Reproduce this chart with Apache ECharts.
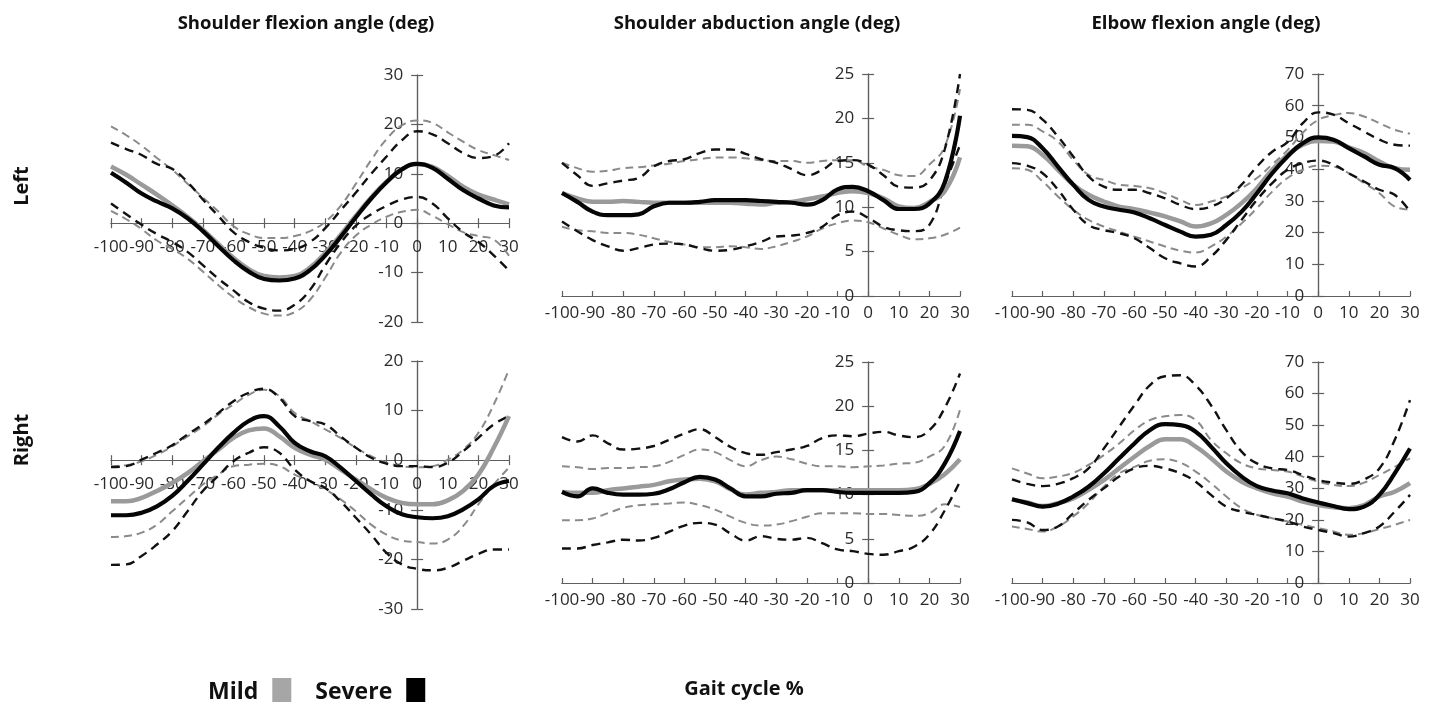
<!DOCTYPE html>
<html><head><meta charset="utf-8">
<script src="https://cdn.jsdelivr.net/npm/echarts@6/dist/echarts.min.js"></script>
<style>html,body{margin:0;padding:0;background:#fff}#c{width:1434px;height:702px}</style>
</head><body><div id="c"></div><script>
// Gait cycle % (x positions)
const gait = [-100,-95,-90,-85,-80,-75,-70,-65,-60,-55,-50,-45,-40,-35,-30,-25,-20,-15,-10,-5,0,5,10,15,20,25,30];

// Shoulder flexion angle - Left
const sfL_mild   = [11.5,9.8,7.8,5.8,3.6,1.3,-1.3,-4.2,-7.0,-9.3,-10.7,-11.0,-10.7,-9.0,-6.0,-2.4,1.5,5.2,8.4,10.9,12.0,11.4,9.6,7.4,5.8,4.8,3.8];
const sfL_sev    = [10.2,8.2,6.0,4.4,3.0,1.0,-1.6,-4.6,-7.5,-9.8,-11.3,-11.6,-11.2,-9.5,-6.5,-2.8,1.2,5.0,8.3,10.9,12.0,11.2,9.0,6.7,5.0,3.6,3.2];
const sfL_mildHi = [19.6,17.8,15.7,13.2,10.8,8.0,5.2,2.4,-0.6,-2.2,-3.0,-3.0,-2.6,-1.6,0.3,3.5,8.0,12.8,17.0,19.8,20.8,20.3,18.4,16.5,14.8,13.8,12.8];
const sfL_sevHi  = [16.3,15.0,13.8,12.0,11.0,8.3,4.8,1.5,-1.8,-3.8,-5.0,-5.5,-5.2,-3.8,-1.0,2.6,6.2,10.0,13.5,16.8,18.6,18.0,16.2,14.2,13.2,13.6,16.2];
const sfL_mildLo = [2.5,0.8,-1.2,-3.5,-5.2,-7.2,-9.8,-12.5,-15.0,-17.0,-18.3,-18.7,-18.0,-15.5,-11.0,-6.0,-2.5,-0.3,1.3,2.3,2.7,1.5,-0.2,-1.8,-2.6,-3.3,-6.6];
const sfL_sevLo  = [4.0,1.8,-0.3,-2.2,-3.8,-5.8,-8.5,-11.2,-13.6,-16.0,-17.3,-17.7,-16.5,-13.5,-8.5,-4.0,-0.5,1.8,3.5,4.8,5.3,4.0,1.0,-1.8,-3.8,-6.5,-9.6];

// Shoulder abduction angle - Left
const saL_mild   = [11.6,11.0,10.6,10.6,10.7,10.6,10.5,10.5,10.5,10.5,10.5,10.5,10.4,10.3,10.5,10.6,10.9,11.2,11.6,11.8,11.6,11.0,10.1,9.9,10.6,11.8,15.6];
const saL_sev    = [11.6,10.6,9.5,9.1,9.1,9.2,10.1,10.5,10.5,10.6,10.8,10.8,10.8,10.7,10.6,10.5,10.3,10.8,12.0,12.3,11.8,10.8,9.8,9.8,10.4,12.8,20.3];
const saL_mildHi = [15.0,14.4,14.0,14.1,14.4,14.5,14.7,14.9,15.2,15.4,15.6,15.6,15.5,15.3,15.2,15.2,15.0,15.2,15.3,15.3,14.6,14.2,13.6,13.5,14.8,16.8,23.3];
const saL_sevHi  = [15.0,13.6,12.4,12.7,13.0,13.3,14.6,15.2,15.4,16.1,16.5,16.5,16.0,15.4,15.0,14.3,13.6,14.2,15.2,15.3,14.8,13.6,12.3,12.2,13.0,16.5,25.0];
const saL_mildLo = [7.8,7.4,7.3,7.1,7.1,6.9,6.5,6.1,5.8,5.5,5.5,5.6,5.5,5.3,5.6,6.1,6.7,7.6,8.2,8.5,8.3,7.6,6.9,6.4,6.5,6.9,7.7];
const saL_sevLo  = [8.4,7.3,6.3,5.6,5.1,5.4,5.8,5.9,5.8,5.4,5.1,5.2,5.6,6.1,6.7,6.8,7.1,7.8,9.1,9.5,8.8,7.8,7.4,7.3,8.0,12.5,17.0];

// Elbow flexion angle - Left
const efL_mild   = [47.4,47.2,44.5,39.8,35.1,31.9,29.8,28.2,27.4,26.3,25.1,23.5,21.9,22.9,25.6,29.3,34.0,39.8,44.5,47.7,48.9,48.7,46.9,45.1,42.4,40.3,39.8];
const efL_sev    = [50.5,50.1,46.6,40.8,35.1,30.3,28.2,27.2,26.3,24.5,22.4,20.3,18.7,19.3,22.4,26.6,32.4,38.7,44.0,48.2,50.0,49.3,46.6,44.0,41.4,40.3,36.6];
const efL_mildHi = [54.0,54.0,51.9,48.7,42.9,38.2,36.6,35.1,34.7,34.0,32.4,30.3,28.7,29.8,31.4,34.0,37.2,41.5,46.0,51.5,55.5,57.0,57.7,56.6,54.5,52.4,51.2];
const efL_sevHi  = [58.9,58.7,55.6,50.3,44.0,37.7,34.5,33.5,33.5,32.4,30.8,28.7,27.4,28.2,30.8,35.1,40.8,45.5,48.5,54.5,57.9,57.2,54.5,51.9,49.3,47.7,47.4];
const efL_mildLo = [40.3,39.8,36.1,31.4,27.2,24.0,21.9,20.3,18.7,17.2,15.6,14.3,13.7,15.6,18.7,22.9,27.7,32.9,37.2,39.8,41.1,40.8,38.7,35.6,32.4,28.2,27.2];
const efL_sevLo  = [41.9,41.1,38.7,33.5,27.2,22.4,20.8,19.8,18.2,15.1,11.9,10.3,9.3,12.4,17.7,24.0,30.3,35.6,39.8,41.9,42.7,41.4,38.7,36.1,33.5,31.9,26.6];

// Shoulder flexion angle - Right
const sfR_mild   = [-8.3,-8.3,-7.6,-6.2,-4.6,-2.6,-0.2,2.1,4.5,6.0,6.4,4.8,2.5,1.1,0.1,-1.9,-3.9,-5.9,-7.6,-8.6,-8.9,-8.9,-8.1,-6.2,-2.9,2.5,8.9];
const sfR_sev    = [-11.1,-11.1,-10.6,-9.3,-7.2,-4.2,-0.9,2.5,5.5,7.9,8.9,6.8,3.5,1.8,0.8,-1.5,-4.2,-6.9,-9.3,-10.9,-11.5,-11.7,-11.3,-9.9,-7.9,-5.2,-4.2];
const sfR_mildHi = [-1.2,-1.0,-0.2,1.1,2.8,4.8,6.8,9.2,11.2,13.2,14.2,12.9,9.5,7.9,6.2,4.5,2.5,0.8,-0.5,-1.2,-1.4,-1.2,0.1,2.1,5.5,11.2,18.3];
const sfR_sevHi  = [-1.4,-1.2,0.1,1.5,3.0,5.2,7.2,9.5,11.9,13.6,14.4,12.6,8.9,7.9,7.2,4.8,2.5,0.5,-0.7,-1.2,-1.2,-1.4,-0.5,1.8,4.5,7.2,8.9];
const sfR_mildLo = [-15.5,-15.3,-14.6,-13.0,-10.3,-7.6,-4.9,-2.9,-1.2,-0.9,-0.7,-1.2,-2.9,-4.2,-5.9,-7.9,-10.3,-13.0,-15.0,-16.2,-16.5,-16.8,-16.0,-13.3,-8.9,-4.9,-1.5];
const sfR_sevLo  = [-21.1,-21.0,-19.3,-17.0,-14.3,-10.3,-6.2,-3.2,-0.2,1.5,2.6,1.5,-1.9,-4.2,-5.6,-8.3,-11.6,-15.0,-18.7,-21.0,-21.9,-22.2,-21.7,-20.3,-18.9,-18.0,-18.0];

// Shoulder abduction angle - Right
const saR_mild   = [10.3,10.2,10.2,10.5,10.7,10.9,11.1,11.5,11.7,11.8,11.5,10.6,10.0,10.2,10.3,10.5,10.5,10.5,10.5,10.5,10.5,10.5,10.5,10.6,11.2,12.3,14.0];
const saR_sev    = [10.3,9.8,10.7,10.2,10.0,10.0,10.1,10.6,11.4,12.0,11.7,10.7,9.8,9.8,10.1,10.2,10.5,10.5,10.3,10.2,10.2,10.2,10.2,10.3,11.3,13.5,17.2];
const saR_mildHi = [13.2,13.1,12.9,13.0,13.0,13.1,13.2,13.7,14.5,15.1,14.8,13.9,13.2,13.9,14.3,14.0,13.5,13.2,13.2,13.1,13.2,13.3,13.5,13.6,14.3,15.5,19.6];
const saR_sevHi  = [16.5,16.0,16.7,15.8,15.1,15.2,15.5,16.2,16.9,17.4,16.5,15.4,14.7,14.5,14.8,15.1,15.5,16.4,16.7,16.6,16.9,17.1,16.7,16.5,17.3,19.8,23.7];
const saR_mildLo = [7.1,7.1,7.3,7.9,8.5,8.8,8.9,9.0,9.1,8.8,8.3,7.5,6.8,6.5,6.6,7.0,7.5,7.9,7.9,7.9,7.8,7.8,7.7,7.6,7.9,8.9,8.6];
const saR_sevLo  = [3.9,3.9,4.3,4.6,4.9,4.8,5.1,5.8,6.5,6.8,6.6,5.6,4.8,5.3,5.0,4.9,5.1,4.5,3.8,3.6,3.3,3.2,3.6,4.1,5.5,8.2,11.5];

// Elbow flexion angle - Right
const efR_mild   = [26.5,25.5,24.4,25.3,26.8,29.5,32.6,36.3,40.0,43.4,45.5,45.5,43.2,39.5,35.3,32.1,30.0,28.4,27.4,25.8,24.7,24.0,23.7,24.7,27.4,28.9,31.6];
const efR_sev    = [26.5,25.3,24.2,25.1,27.4,30.5,34.7,39.5,44.2,48.4,50.3,50.0,47.9,43.2,37.9,33.7,30.7,29.3,28.4,26.8,25.5,24.4,23.4,24.2,27.9,34.7,42.6];
const efR_mildHi = [36.3,34.7,33.2,33.7,34.9,37.4,40.5,44.2,48.4,51.6,52.8,53.2,51.6,45.3,41.1,37.9,36.3,35.8,35.3,33.7,32.1,31.1,30.7,31.8,34.2,36.8,39.5];
const efR_sevHi  = [32.8,31.4,30.7,31.4,33.2,36.3,42.6,49.5,56.3,62.6,65.5,65.8,62.6,56.3,48.4,41.6,37.9,36.3,35.8,34.2,32.6,31.8,31.4,32.8,36.3,45.3,57.9];
const efR_mildLo = [17.9,17.1,16.3,17.9,21.1,25.3,30.5,34.7,36.8,38.7,39.2,38.1,35.3,31.6,27.4,23.7,21.6,20.5,19.5,18.4,17.4,16.3,15.3,15.8,17.1,18.4,20.0];
const efR_sevLo  = [20.0,19.2,16.8,17.9,22.1,26.3,30.0,33.7,36.3,37.1,36.3,34.7,32.1,27.9,24.2,22.6,21.6,20.5,19.5,17.9,16.8,15.8,14.7,15.8,17.9,22.6,27.9];

const titles = ['Shoulder flexion angle (deg)', 'Shoulder abduction angle (deg)', 'Elbow flexion angle (deg)'];
const rowLabels = ['Left', 'Right'];
const groups = ['Mild', 'Severe'];
const xLabel = 'Gait cycle %';

const panels = [
  {rect:{left:111, top:75,  width:398, height:247}, y:[-20,30,10], mid:true,  s:[sfL_mildLo,sfL_mildHi,sfL_sevLo,sfL_sevHi,sfL_mild,sfL_sev]},
  {rect:{left:562, top:74,  width:398, height:222}, y:[0,25,5],    mid:false, s:[saL_mildLo,saL_mildHi,saL_sevLo,saL_sevHi,saL_mild,saL_sev]},
  {rect:{left:1012,top:74,  width:398, height:222}, y:[0,70,10],   mid:false, s:[efL_mildLo,efL_mildHi,efL_sevLo,efL_sevHi,efL_mild,efL_sev]},
  {rect:{left:111, top:361, width:398, height:248}, y:[-30,20,10], mid:true,  s:[sfR_mildLo,sfR_mildHi,sfR_sevLo,sfR_sevHi,sfR_mild,sfR_sev]},
  {rect:{left:562, top:362, width:398, height:221}, y:[0,25,5],    mid:false, s:[saR_mildLo,saR_mildHi,saR_sevLo,saR_sevHi,saR_mild,saR_sev]},
  {rect:{left:1012,top:362, width:398, height:221}, y:[0,70,10],   mid:false, s:[efR_mildLo,efR_mildHi,efR_sevLo,efR_sevHi,efR_mild,efR_sev]}
];
const X_MIN = -100, X_MAX = 30, X_STEP = 10;

const AX = '#5f5f5f';
const FONT = '"Open Sans", "Noto Sans", sans-serif';
const styles = [
  {name:'Mild SD',   color:'#8a8a8a', width:2,   type:[8,5], z:2},
  {name:'Mild SD',   color:'#8a8a8a', width:2,   type:[8,5], z:2},
  {name:'Severe SD', color:'#111111', width:2.4, type:[9,6], z:3},
  {name:'Severe SD', color:'#111111', width:2.4, type:[9,6], z:3},
  {name:'Mild',      color:'#9a9a9a', width:4.5, type:'solid', z:4},
  {name:'Severe',    color:'#050505', width:4.2, type:'solid', z:5}
];

const option = {
  animation:false,
  backgroundColor:'#ffffff',
  grid:[], xAxis:[], yAxis:[], series:[],
  legend:{
    left:203, top:673, orient:'horizontal', align:'right', itemWidth:19, itemHeight:28, itemGap:24,
    selectedMode:false,
    textStyle:{fontFamily:FONT, fontWeight:'bold', fontSize:23, color:'#111', padding:[0,9,0,0]},
    itemStyle:{borderWidth:0},
    data:[{name:groups[0], icon:'rect', itemStyle:{color:'#a6a6a6'}}, {name:groups[1], icon:'rect', itemStyle:{color:'#000000'}}]
  },
  graphic:[]
};

panels.forEach((p,i)=>{
  const w = p.rect.width, h = p.rect.height;
  // where value 0 sits inside the plot, as fractions of the plot size
  const fy = (p.y[1] - 0) / (p.y[1] - p.y[0]);       // from the top
  const fx = (0 - X_MIN) / (X_MAX - X_MIN);          // from the left
  option.grid.push(Object.assign({containLabel:false}, p.rect));
  const common = {type:'value', gridIndex:i, splitLine:{show:false}, axisLine:{show:true, onZero:false, lineStyle:{color:AX, width:1.2}}};
  option.xAxis.push(Object.assign({}, common, {
    min:X_MIN, max:X_MAX, interval:X_STEP, position:'bottom', offset:-(1 - fy) * h,
    axisTick:{show:p.mid, length:5, lineStyle:{color:AX, width:1.2}},
    axisLabel:{show:true, margin:p.mid?15:9, fontSize:17, fontFamily:FONT, color:'#2a2a2a', showMinLabel:true, showMaxLabel:true}
  }));
  option.xAxis.push(Object.assign({}, common, {
    min:X_MIN, max:X_MAX, interval:X_STEP, position:'top', offset:-fy * h,
    axisTick:{show:true, length:5, lineStyle:{color:AX, width:1.2}},
    axisLabel:{show:false}
  }));
  option.yAxis.push(Object.assign({}, common, {
    min:p.y[0], max:p.y[1], interval:p.y[2], position:'left', offset:-fx * w,
    axisTick:{show:true, length:6, lineStyle:{color:AX, width:1.2}},
    axisLabel:{show:true, margin:14, fontSize:17, fontFamily:FONT, color:'#2a2a2a', showMinLabel:true, showMaxLabel:true}
  }));
  option.yAxis.push(Object.assign({}, common, {
    min:p.y[0], max:p.y[1], interval:p.y[2], position:'right', offset:-(1 - fx) * w,
    axisTick:{show:true, length:6, lineStyle:{color:AX, width:1.2}},
    axisLabel:{show:false}
  }));
  p.s.forEach((arr,k)=>{
    const st = styles[k];
    option.series.push({
      type:'line', name:st.name, xAxisIndex:2*i, yAxisIndex:2*i,
      data:gait.map((x,j)=>[x, arr[j]]),
      smooth:0.45, showSymbol:false, symbol:'none', z:st.z, silent:true,
      color:st.color,
      lineStyle:{color:st.color, width:st.width, type:st.type, cap:'butt'}
    });
  });
});

const titleX = [306, 757, 1206];
titles.forEach((t,i)=>{
  option.graphic.push({type:'text', x:titleX[i], y:24, style:{text:t, font:'bold 18.5px ' + FONT, fill:'#111', align:'center', verticalAlign:'middle', textAlign:'center', textVerticalAlign:'middle'}});
});
const rowY = [186, 440];
rowLabels.forEach((t,i)=>{
  option.graphic.push({type:'text', x:22, y:rowY[i], rotation:Math.PI/2, style:{text:t, font:'bold 20px ' + FONT, fill:'#111', align:'center', verticalAlign:'middle', textAlign:'center', textVerticalAlign:'middle'}});
});
option.graphic.push({type:'text', x:744, y:689, style:{text:xLabel, font:'bold 20px ' + FONT, fill:'#111', align:'center', verticalAlign:'middle', textAlign:'center', textVerticalAlign:'middle'}});

const chart = echarts.init(document.getElementById('c'), null, {renderer:'canvas'});
chart.setOption(option);
</script></body></html>
